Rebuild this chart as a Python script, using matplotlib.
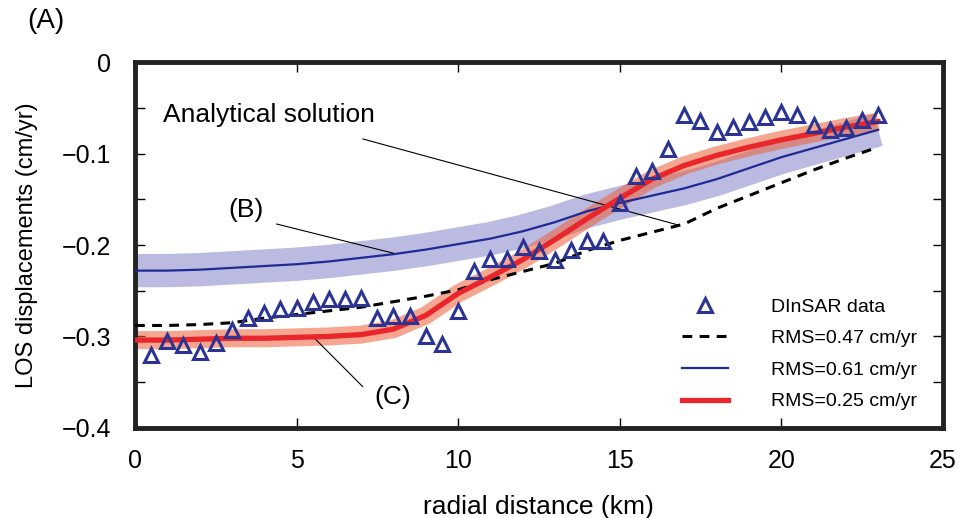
import numpy as np
import matplotlib
matplotlib.use('Agg')
import matplotlib.pyplot as plt

plt.rcParams['font.family'] = ['Liberation Sans', 'DejaVu Sans']

# DInSAR observations (every 0.5 km)
obs_x = np.arange(0.5, 23.01, 0.5)
obs_y = [-0.320, -0.305, -0.309, -0.317, -0.307, -0.293, -0.280, -0.274, -0.270, -0.269,
         -0.262, -0.259, -0.259, -0.258, -0.280, -0.278, -0.278, -0.300, -0.308, -0.272,
         -0.228, -0.215, -0.215, -0.202, -0.207, -0.216, -0.206, -0.196, -0.196, -0.154,
         -0.124, -0.119, -0.095, -0.058, -0.064, -0.076, -0.071, -0.065, -0.060, -0.054,
         -0.058, -0.069, -0.074, -0.072, -0.063, -0.058]

# model curves
mod_x = [0, 1, 2, 3, 4, 5, 6, 7, 8, 9, 10, 11, 12, 13, 14, 15, 16, 17, 18, 19, 20, 21, 22, 23]
analytic_y = [-0.288, -0.288, -0.287, -0.285, -0.280, -0.276, -0.272, -0.268, -0.262, -0.256,
              -0.249, -0.238, -0.229, -0.220, -0.206, -0.195, -0.186, -0.177, -0.160, -0.146,
              -0.132, -0.118, -0.105, -0.093]
model_b_y = [-0.228, -0.228, -0.227, -0.225, -0.223, -0.221, -0.218, -0.214, -0.210, -0.205,
             -0.199, -0.193, -0.185, -0.175, -0.163, -0.154, -0.146, -0.138, -0.128, -0.116,
             -0.104, -0.094, -0.084, -0.074]
model_c_y = [-0.304, -0.304, -0.303, -0.302, -0.302, -0.301, -0.300, -0.298, -0.292, -0.277,
             -0.253, -0.235, -0.216, -0.194, -0.171, -0.149, -0.128, -0.113, -0.102, -0.093,
             -0.085, -0.078, -0.071, -0.065]

labels = ['DInSAR data', 'RMS=0.47 cm/yr', 'RMS=0.61 cm/yr', 'RMS=0.25 cm/yr']

fig = plt.figure(figsize=(9.61, 5.18), dpi=100)
ax = fig.add_axes([0.1405, 0.174, 0.8405, 0.706])

# uncertainty bands drawn as wide translucent strokes
ax.plot(mod_x, model_b_y, color=(0.47, 0.47, 0.78), alpha=0.5, linewidth=24, solid_capstyle='butt', zorder=1)
ax.plot(mod_x, model_c_y, color=(0.93, 0.37, 0.22), alpha=0.55, linewidth=13, solid_capstyle='butt', zorder=2)

l_an, = ax.plot(mod_x, analytic_y, color='black', linewidth=2.2, dashes=(3.2, 2.4), zorder=3)
l_b, = ax.plot(mod_x, model_b_y, color='#1f2a94', linewidth=1.6, zorder=3)
l_c, = ax.plot(mod_x, model_c_y, color='#e8262b', linewidth=3.8, zorder=4)
l_obs, = ax.plot(obs_x, obs_y, linestyle='none', marker='^', markersize=10, mfc='none',
                 mec='#2b3493', mew=2.2, zorder=5)

ax.set_xlim(0, 25)
ax.set_ylim(-0.4, 0)
ax.set_xticks([0, 5, 10, 15, 20, 25])
ax.set_yticks(np.arange(-0.4, 0.001, 0.05))
ax.set_yticklabels(['\u22120.4', '', '\u22120.3', '', '\u22120.2', '', '\u22120.1', '', '0'])
ax.tick_params(direction='in', top=True, right=True, length=7, width=1, labelsize=18)
ax.tick_params(axis='x', pad=15)
ax.tick_params(axis='y', pad=17)
for s in ax.spines.values():
    s.set_linewidth(3.5)
    s.set_color('#222222')

ax.set_xlabel('radial distance (km)', fontsize=19, labelpad=16)
ax.set_ylabel('LOS displacements (cm/yr)', fontsize=17, labelpad=17)
fig.text(0.028, 0.96, '(A)', fontsize=20, va='center', ha='left')

# annotations
ax.text(0.87, -0.058, 'Analytical solution', fontsize=19, va='center', ha='left')
ax.annotate('', xy=(16.8, -0.178), xytext=(7.05, -0.084),
            arrowprops=dict(arrowstyle='-', lw=0.8, color='black', shrinkA=0, shrinkB=0))
ax.text(3.43, -0.162, '(B)', fontsize=19, va='center', ha='center')
ax.annotate('', xy=(8.0, -0.209), xytext=(4.38, -0.177),
            arrowprops=dict(arrowstyle='-', lw=0.8, color='black', shrinkA=0, shrinkB=0))
ax.text(7.98, -0.366, '(C)', fontsize=19, va='center', ha='center')
ax.annotate('', xy=(5.5, -0.300), xytext=(7.05, -0.355),
            arrowprops=dict(arrowstyle='-', lw=0.8, color='black', shrinkA=0, shrinkB=0))

ax.legend([l_obs, l_an, l_b, l_c], labels, loc='lower right', bbox_to_anchor=(0.99, 0.0),
          frameon=False, fontsize=14, handlelength=2.4, handletextpad=2.2, labelspacing=0.72)

fig.savefig('out.png', dpi=100)
